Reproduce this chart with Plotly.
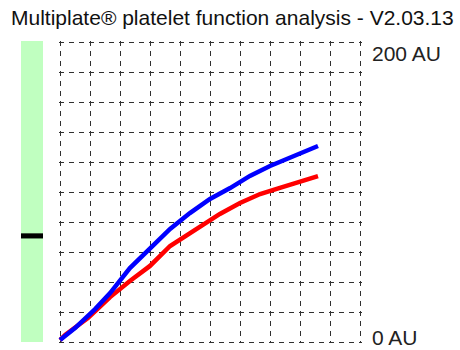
import plotly.graph_objects as go

W, H = 460, 350

# Data (time in grid units, aggregation in AU)
blue_t = [0, 0.5, 1.17, 1.67, 2.33, 3.0, 3.67, 4.33, 5.0, 5.67, 6.33, 7.0, 7.67, 8.0, 8.6]
blue_au = [1.3, 9.3, 22.0, 32.7, 49.4, 62.1, 75.5, 86.1, 95.5, 102.8, 110.9, 117.5, 122.9, 125.5, 130.9]

red_t = [0, 0.17, 0.93, 1.67, 2.33, 3.0, 3.67, 4.33, 4.67, 5.33, 6.0, 6.67, 7.33, 8.0, 8.6]
red_au = [1.3, 4.7, 16.0, 30.0, 40.7, 50.8, 64.1, 72.8, 76.8, 85.5, 92.8, 98.8, 102.9, 106.8, 110.8]

ref_range = [0, 200]      # green reference bar (AU)
result_au = 70.5          # black marker on reference bar

title = "Multiplate® platelet function analysis - V2.03.13"
top_label = "200 AU"
bottom_label = "0 AU"

fig = go.Figure()

# reference bar
fig.add_trace(go.Bar(x=[0], y=[ref_range[1] - ref_range[0]], base=[ref_range[0]],
                     width=[1], marker=dict(color="#C0FFC0", line=dict(width=0)),
                     xaxis="x2", yaxis="y2", hoverinfo="skip", showlegend=False))
fig.add_trace(go.Bar(x=[0], y=[3.4], base=[result_au - 1.7], width=[1],
                     marker=dict(color="#000000", line=dict(width=0)),
                     xaxis="x2", yaxis="y2", hoverinfo="skip", showlegend=False))

fig.add_trace(go.Scatter(x=red_t, y=red_au, mode="lines",
                         line=dict(color="#FF0000", width=4.5), cliponaxis=False,
                         showlegend=False))
fig.add_trace(go.Scatter(x=blue_t, y=blue_au, mode="lines",
                         line=dict(color="#0000FF", width=4.5), cliponaxis=False,
                         showlegend=False))

# axes: 0..10 -> 60..360 px ; 0..200 -> 342..42.5 px, padded so edge grid lines show
pxx = 30.0
pxy = 299.5 / 200
x_pad, y_pad = 0.05, 1.0
fig.update_layout(
    width=W, height=H,
    margin=dict(l=0, r=0, t=0, b=0),
    paper_bgcolor="white", plot_bgcolor="rgba(0,0,0,0)",
    barmode="overlay",
    xaxis=dict(domain=[(60 - x_pad * pxx) / W, (360 + x_pad * pxx) / W],
               range=[-x_pad, 10 + x_pad], dtick=1, tick0=0,
               showgrid=True, gridcolor="#303030", gridwidth=1, griddash="5px,5px",
               zeroline=False, showline=False, showticklabels=False, ticks="",
               fixedrange=True),
    yaxis=dict(domain=[(H - 342 - y_pad * pxy) / H, (H - 42.5 + y_pad * pxy) / H],
               range=[-y_pad, 200 + y_pad], dtick=20, tick0=0,
               showgrid=True, gridcolor="#303030", gridwidth=1, griddash="5px,5px",
               zeroline=False, showline=False, showticklabels=False, ticks="",
               fixedrange=True),
    xaxis2=dict(domain=[21 / W, 43 / W], range=[-0.5, 0.5], visible=False,
                anchor="y2", fixedrange=True),
    yaxis2=dict(domain=[(H - 342) / H, (H - 41) / H], range=[0, 200], visible=False,
                anchor="x2", fixedrange=True),
    font=dict(family="Liberation Sans", color="#000000"),
    annotations=[
        dict(text=title, x=232 / W, y=(H - 18) / H, xref="paper", yref="paper",
             xanchor="center", yanchor="middle", showarrow=False,
             font=dict(size=21, family="Liberation Sans", color="#111111")),
        dict(text=top_label, x=370 / W, y=(H - 54) / H, xref="paper", yref="paper",
             xanchor="left", yanchor="middle", showarrow=False,
             font=dict(size=21, family="Liberation Sans", color="#222222")),
        dict(text=bottom_label, x=370 / W, y=(H - 337) / H, xref="paper", yref="paper",
             xanchor="left", yanchor="middle", showarrow=False,
             font=dict(size=21, family="Liberation Sans", color="#222222")),
    ],
)

fig.write_html("out.html")
